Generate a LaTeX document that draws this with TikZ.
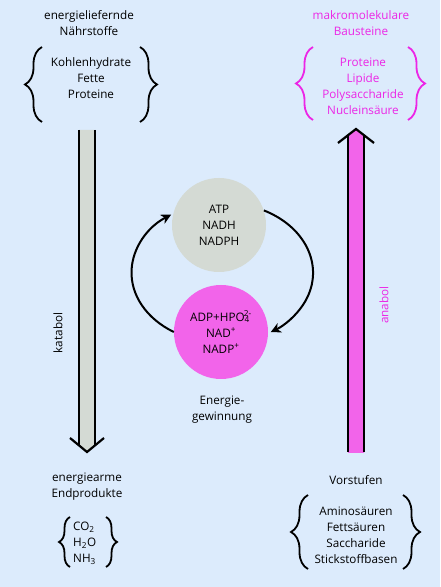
\documentclass[tikz,border=0pt]{standalone}
\usepackage{fontspec}
\setmainfont{Open Sans}
\usetikzlibrary{decorations.pathreplacing,arrows.meta,calc}
\definecolor{bg}{RGB}{220,235,252}
\definecolor{lgray}{RGB}{212,218,212}
\definecolor{pinkfill}{RGB}{242,100,234}
\definecolor{pinktext}{RGB}{236,38,230}
\begin{document}
\begin{tikzpicture}[x=1pt,y=1pt,
  txt/.style={font=\fontsize{11.7}{16}\selectfont, align=center, inner sep=0pt},
  brc/.style={decorate, decoration={brace, amplitude=#1}, line width=1.8pt},
  brc/.default=17pt,
  cyc/.style={line width=2pt, -{Stealth[length=10pt,width=10pt,inset=3pt]}},
  shaftline/.style={line width=2.2pt},
  blob/.style={circle, minimum size=94pt, inner sep=0pt, font=\fontsize{11.7}{16}\selectfont, align=center},
]
\fill[bg] (0,0) rectangle (440,587);
\useasboundingbox (0,0) rectangle (440,587);

% top left
\node[txt] (tl) at (89,564) {energieliefernde\\Nährstoffe};
\node[txt] (tlitems) at (91,508.5) {Kohlenhydrate\\Fette\\Proteine};
\draw[brc] (42,465) -- (42,540);
\draw[brc] (140,540) -- (140,465);

% top right
\node[txt, text=pinktext] (tr) at (361,564) {makromolekulare\\Bausteine};
\node[txt, text=pinktext] (tritems) at (363,501) {Proteine\\Lipide\\Polysaccharide\\Nucleinsäure};
\draw[brc, pinktext] (313,467) -- (313,540);
\draw[brc, pinktext] (408,540) -- (408,467);

% bottom left
\node[txt] (bl) at (87,100) {energiearme\\Endprodukte};
\node[txt, align=left, anchor=west] (blitems) at (73,44) {CO\textsubscript{2}\\H\textsubscript{2}O\\NH\textsubscript{3}};
\draw[brc=11pt] (70,20) -- (70,70);
\draw[brc=11pt] (106,70) -- (106,20);

% bottom right
\node[txt] (br) at (356,107) {Vorstufen};
\node[txt] (britems) at (356,52) {Aminosäuren\\Fettsäuren\\Saccharide\\Stickstoffbasen};
\draw[brc] (308,18) -- (308,92);
\draw[brc] (403,92) -- (403,18);

% katabol arrow
\coordinate (kT) at (87,457);
\coordinate (kB) at (87,135);
\fill[lgray] ($(kT)+(-8,0)$) -- ($(kT)+(8,0)$) -- ($(kB)+(8,7)$) -- (kB) -- ($(kB)+(-8,7)$) -- cycle;
\draw[shaftline] ($(kT)+(-8,0)$) -- ($(kB)+(-8,7)$);
\draw[shaftline] ($(kT)+(8,0)$) -- ($(kB)+(8,7)$);
\draw[shaftline, line join=miter] ($(kB)+(-17,14)$) -- (kB) -- ($(kB)+(17,14)$);
\node[txt, rotate=90] (kat) at (58,254) {katabol};

% anabol arrow
\coordinate (aB) at (356,135);
\coordinate (aT) at (356,458);
\fill[pinkfill] ($(aB)+(-8,-1)$) -- ($(aB)+(8,-1)$) -- ($(aT)+(8,-7)$) -- (aT) -- ($(aT)+(-8,-7)$) -- cycle;
\draw[shaftline] ($(aB)+(-8,0)$) -- ($(aT)+(-8,-7)$);
\draw[shaftline] ($(aB)+(8,0)$) -- ($(aT)+(8,-7)$);
\draw[shaftline, line join=miter] ($(aT)+(-18,-14)$) -- (aT) -- ($(aT)+(18,-14)$);
\node[txt, rotate=90, text=pinktext] (ana) at (384,282) {anabol};

% cycle
\node[blob, fill=lgray] (gray) at (219,362) {ATP\\NADH\\NADPH};
\node[blob, fill=pinkfill] (pink) at (221,255) {ADP+HPO\textsubscript{4}\kern-0.5em\textsuperscript{2-}\\NAD\textsuperscript{+}\\NADP\textsuperscript{+}};
\draw[cyc] (pink.west) arc[start angle=238, end angle=124, x radius=90, y radius=70];
\draw[cyc] (gray.18) arc[start angle=63, end angle=-58, x radius=90, y radius=70];
\node[txt] (eg) at (222,177) {Energie-\\gewinnung};
\end{tikzpicture}
\end{document}
